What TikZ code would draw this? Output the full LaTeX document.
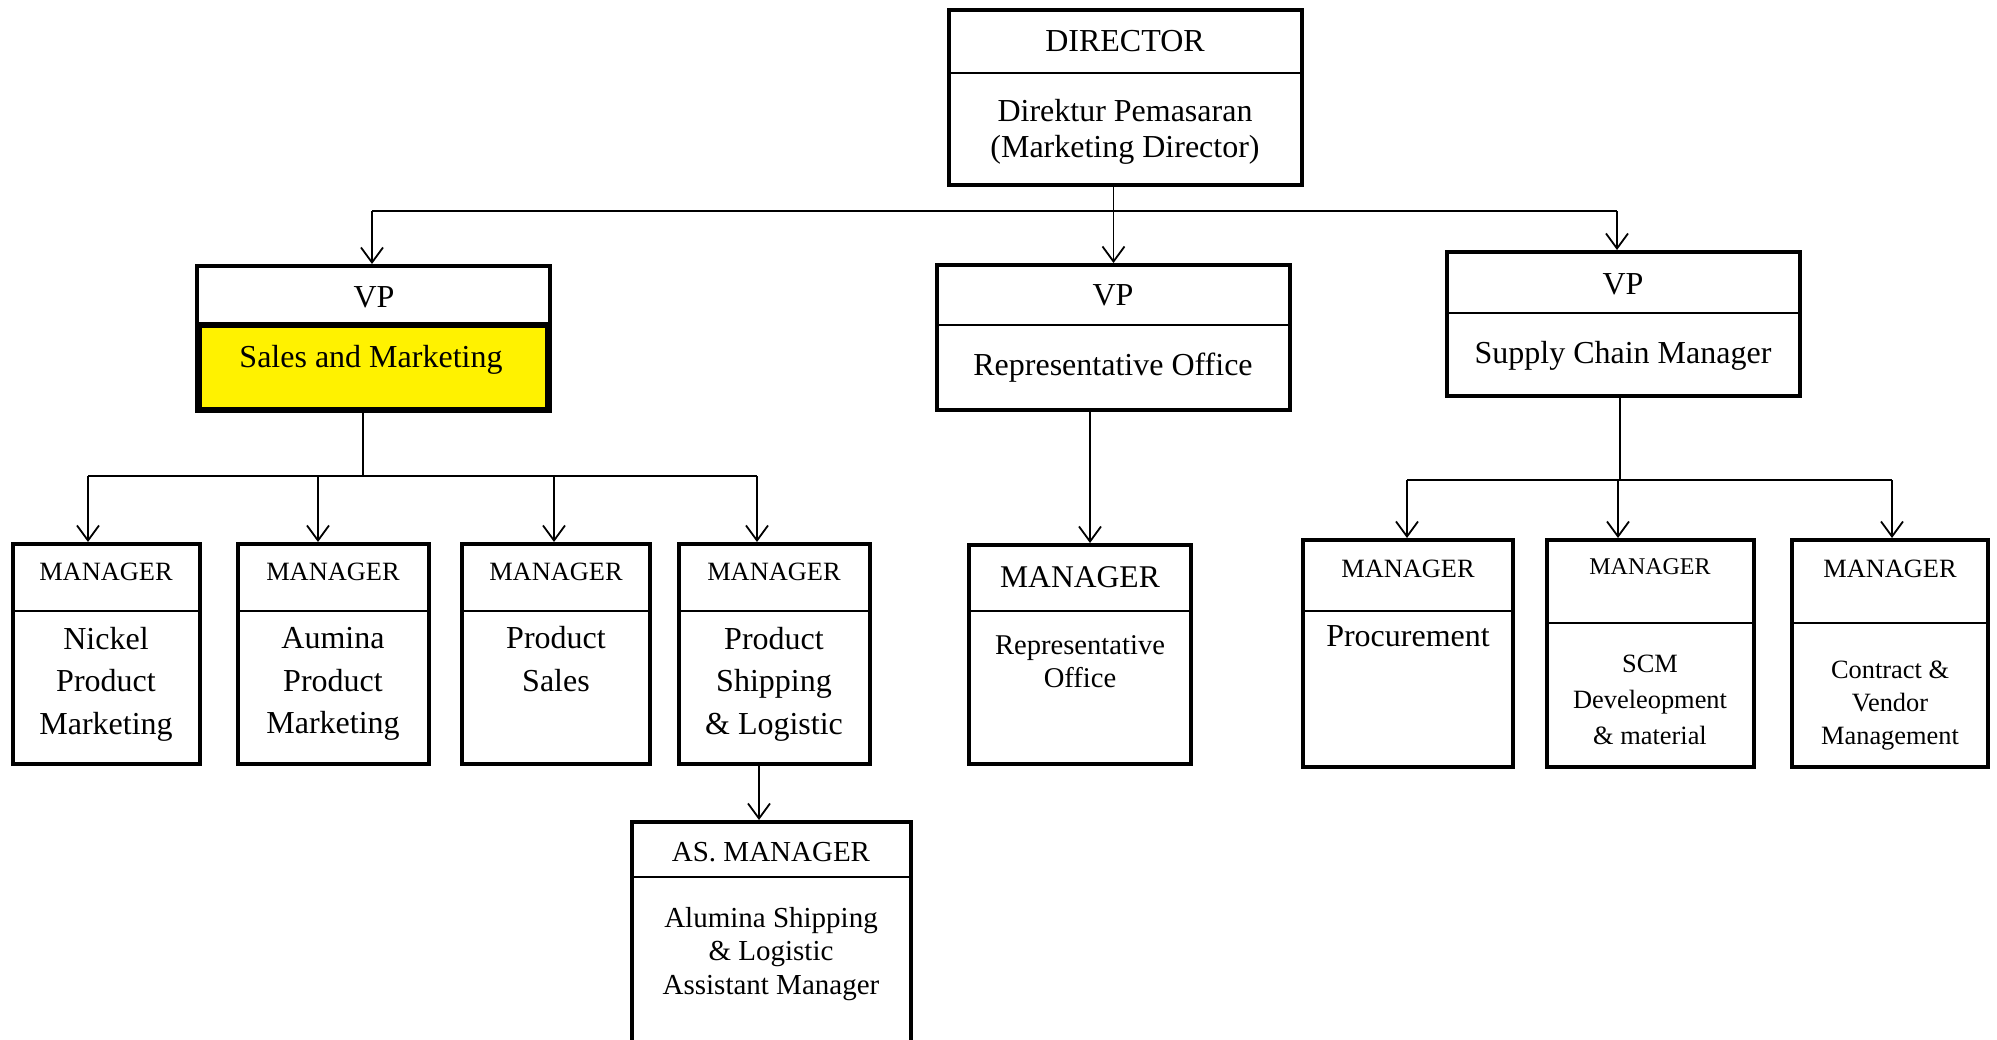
\documentclass[tikz,border=0pt]{standalone}
\usepackage{fontspec}
\setmainfont{Liberation Serif}
\usetikzlibrary{arrows.meta,fit}

\begin{document}
\begin{tikzpicture}[%
            x=0.5pt, y=-0.5pt,
            >={Straight Barb[length=7.5pt,width=11pt]},
            frame/.style={draw, line width=2pt, inner sep=0pt},
            divider/.style={line width=0.9pt},
            link/.style={line width=0.9pt},
            title/.style={inner sep=0pt, font=\fontsize{16}{19}\selectfont},
            mgrtitle/.style={inner sep=0pt, font=\fontsize{13.2}{16}\selectfont},
            body/.style={inner sep=0pt, align=center, font=\fontsize{16}{21.25}\selectfont}
            ]
            \useasboundingbox (0,0) rectangle (1997,1039);
            \clip (0,0) rectangle (1997,1039);

            % director
            \node[frame, fit={(949,10) (1302,185)}] (dir) {};
            \draw[divider] (949,73) -- (1302,73);
            \node[title] (dirt) at (1125,41) {DIRECTOR};
            \node[body, font=\fontsize{16}{18}\selectfont] (dirb) at (1125,132) {Direktur Pemasaran\\(Marketing Director)};

            % vice presidents
            \node[frame, fit={(197,266) (550,411)}] (vp1) {};
            \draw[line width=3pt, fill=yellow] (199,325) rectangle (548,410);
            \node[title] (vp1t) at (374,297) {VP};
            \node[title] (vp1b) at (371,360) {Sales and Marketing};

            \node[frame, fit={(937,265) (1290,410)}] (vp2) {};
            \draw[divider] (937,325) -- (1290,325);
            \node[title] (vp2t) at (1113,295) {VP};
            \node[title] (vp2b) at (1113,368) {Representative Office};

            \node[frame, fit={(1447,252) (1800,396)}] (vp3) {};
            \draw[divider] (1447,313) -- (1800,313);
            \node[title] (vp3t) at (1623,284) {VP};
            \node[title] (vp3b) at (1623,356) {Supply Chain Manager};

            % sales and marketing managers
            \node[frame, fit={(13,544) (200,764)}] (m1) {};
            \draw[divider] (13,611) -- (200,611);
            \node[mgrtitle] (m1t) at (106,572) {MANAGER};
            \node[body] (m1b) at (106,684) {Nickel\\Product\\Marketing};

            \node[frame, fit={(238,544) (429,764)}] (m2) {};
            \draw[divider] (238,611) -- (429,611);
            \node[mgrtitle] (m2t) at (333,572) {MANAGER};
            \node[body] (m2b) at (333,684) {Aumina\\Product\\Marketing};

            \node[frame, fit={(462,544) (650,764)}] (m3) {};
            \draw[divider] (462,611) -- (650,611);
            \node[mgrtitle] (m3t) at (556,572) {MANAGER};
            \node[body] (m3b) at (556,659) {Product\\Sales};

            \node[frame, fit={(679,544) (870,764)}] (m4) {};
            \draw[divider] (679,611) -- (870,611);
            \node[mgrtitle] (m4t) at (774,572) {MANAGER};
            \node[body] (m4b) at (774,684) {Product\\Shipping\\\& Logistic};

            \node[frame, fit={(632,822) (911,1080)}] (as) {};
            \draw[divider] (632,877) -- (911,877);
            \node[title, font=\fontsize{14.5}{17}\selectfont] (ast) at (771,852) {AS. MANAGER};
            \node[body, font=\fontsize{14.5}{16.75}\selectfont] (asb) at (771,954) {Alumina Shipping\\\& Logistic\\Assistant Manager};

            % representative office manager
            \node[frame, fit={(969,545) (1191,764)}] (m5) {};
            \draw[divider] (969,611) -- (1191,611);
            \node[title, font=\fontsize{15.8}{19}\selectfont] (m5t) at (1080,577) {MANAGER};
            \node[body, font=\fontsize{14.3}{16.5}\selectfont] (m5b) at (1080,662) {Representative\\Office};

            % supply chain managers
            \node[frame, fit={(1303,540) (1513,767)}] (m6) {};
            \draw[divider] (1303,611) -- (1513,611);
            \node[mgrtitle] (m6t) at (1408,569) {MANAGER};
            \node[title] (m6b) at (1408,636) {Procurement};

            \node[frame, fit={(1547,540) (1754,767)}] (m7) {};
            \draw[divider] (1547,623) -- (1754,623);
            \node[mgrtitle, font=\fontsize{12}{15}\selectfont] (m7t) at (1650,567) {MANAGER};
            \node[body, font=\fontsize{13.2}{18}\selectfont] (m7b) at (1650,700) {SCM\\Develeopment\\\& material};

            \node[frame, fit={(1792,540) (1988,767)}] (m8) {};
            \draw[divider] (1792,623) -- (1988,623);
            \node[mgrtitle] (m8t) at (1890,569) {MANAGER};
            \node[body, font=\fontsize{13.2}{16.5}\selectfont] (m8b) at (1890,706) {Contract \&\\Vendor\\Management};

            % connectors
            \coordinate (tl) at (372,211);
            \coordinate (tr) at (1617,211);
            \draw[link,->] (dir.south -| vp2.north) -- (vp2.north);
            \draw[link] (tl) -- (tr);
            \draw[link,->] (tl) -- (tl |- vp1.north);
            \draw[link,->] (tr) -- (tr |- vp3.north);

            \coordinate (ls) at (363,476);
            \coordinate (l1) at (88,476);
            \coordinate (l2) at (318,476);
            \coordinate (l3) at (554,476);
            \coordinate (l4) at (757,476);
            \draw[link] (ls |- vp1.south) -- (ls);
            \draw[link] (l1) -- (l4);
            \draw[link,->] (l1) -- (l1 |- m1.north);
            \draw[link,->] (l2) -- (l2 |- m2.north);
            \draw[link,->] (l3) -- (l3 |- m3.north);
            \draw[link,->] (l4) -- (l4 |- m4.north);
            \coordinate (asx) at (759,0);
            \draw[link,->] (asx |- m4.south) -- (asx |- as.north);

            \coordinate (rx) at (1090,0);
            \draw[link,->] (rx |- vp2.south) -- (rx |- m5.north);

            \coordinate (rs) at (1620,480);
            \coordinate (r1) at (1407,480);
            \coordinate (r2) at (1618,480);
            \coordinate (r3) at (1892,480);
            \draw[link] (rs |- vp3.south) -- (rs);
            \draw[link] (r1) -- (r3);
            \draw[link,->] (r1) -- (r1 |- m6.north);
            \draw[link,->] (r2) -- (r2 |- m7.north);
            \draw[link,->] (r3) -- (r3 |- m8.north);

        \end{tikzpicture}
\end{document}
